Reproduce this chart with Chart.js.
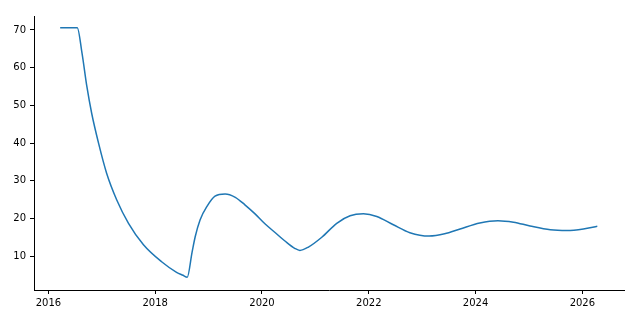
<!DOCTYPE html>
<html>
<head>
<meta charset="utf-8">
<script src="https://cdn.jsdelivr.net/npm/chart.js@4.4.1/dist/chart.umd.min.js"></script>
<style>
  html, body { margin: 0; padding: 0; background: #fff; }
  #wrap { width: 640px; height: 320px; }
</style>
</head>
<body>
<div id="wrap"><canvas id="linechart"></canvas></div>
<script>
// values
const years = [2016.22, 2016.54, 2016.63, 2016.72, 2016.81, 2016.94, 2017.09, 2017.28, 2017.50, 2017.78,
  2018.12, 2018.40, 2018.52, 2018.60, 2018.69, 2018.75, 2018.84, 2018.97, 2019.12, 2019.31, 2019.50,
  2019.68, 2019.87, 2020.06, 2020.25, 2020.43, 2020.62, 2020.71, 2020.87, 2021.12, 2021.40, 2021.65,
  2021.90, 2022.15, 2022.46, 2022.77, 2023.13, 2023.42, 2023.71, 2024.08, 2024.42, 2024.71, 2025.02,
  2025.40, 2025.71, 2026.02, 2026.28];
const values = [70.6, 70.6, 63.8, 55.0, 47.9, 39.9, 32.0, 24.9, 18.7, 13.0,
  8.5, 5.7, 4.9, 4.4, 11.0, 15.2, 19.6, 23.2, 25.9, 26.5, 25.6,
  23.6, 21.2, 18.5, 16.2, 14.0, 12.0, 11.5, 12.4, 15.0, 18.7, 20.7,
  21.2, 20.5, 18.3, 16.2, 15.3, 15.9, 17.2, 18.8, 19.4, 19.0, 18.0,
  17.0, 16.8, 17.2, 17.9];
const xTicks = [2016, 2018, 2020, 2022, 2024, 2026];
const yTicks = [10, 20, 30, 40, 50, 60, 70];

const points = years.map((x, i) => ({ x: x, y: values[i] }));

const tickFont = { family: 'DejaVu Sans', size: 10 };

const ctx = document.getElementById('linechart').getContext('2d');
const linechart = new Chart(ctx, {
  type: 'line',
  data: {
    datasets: [{
      data: points,
      borderColor: '#1f77b4',
      borderWidth: 1.5,
      pointRadius: 0,
      fill: false,
      cubicInterpolationMode: 'monotone'
    }]
  },
  options: {
    responsive: true,
    maintainAspectRatio: false,
    animation: false,
    layout: { padding: { top: 16, right: 16, left: 0, bottom: 0 } },
    plugins: { legend: { display: false }, tooltip: { enabled: false } },
    scales: {
      x: {
        type: 'linear',
        min: 2015.73,
        max: 2026.78,
        afterBuildTicks: s => { s.ticks = xTicks.map(v => ({ value: v })); },
        afterFit: s => { s.height = 30; },
        grid: { drawOnChartArea: false, drawTicks: true, tickLength: 4, color: '#000', lineWidth: 1 },
        border: { display: true, color: '#000', width: 1 },
        ticks: { color: '#000', font: tickFont, padding: 3, maxRotation: 0, callback: v => String(v) }
      },
      y: {
        min: 1.0,
        max: 73.7,
        afterBuildTicks: s => { s.ticks = yTicks.map(v => ({ value: v })); },
        afterFit: s => { s.width = 34; },
        grid: { drawOnChartArea: false, drawTicks: true, tickLength: 4, color: '#000', lineWidth: 1 },
        border: { display: true, color: '#000', width: 1 },
        ticks: { color: '#000', font: tickFont, padding: 4, callback: v => String(v) }
      }
    }
  }
});
</script>
</body>
</html>
